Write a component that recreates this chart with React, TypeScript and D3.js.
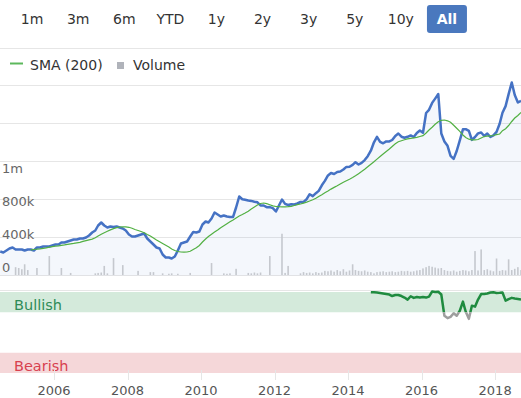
import * as d3 from "d3";
import { useEffect, useRef } from "react";

const W = 521;
const H = 398;

// monthly series, first point mid July 2004
const START = new Date(2004, 6, 15);

const rangeButtons = ["1m", "3m", "6m", "YTD", "1y", "2y", "3y", "5y", "10y", "All"];
const yearTicks = [2006, 2008, 2010, 2012, 2014, 2016, 2018];
const gridTicks = [0, 38, 76, 114, 152, 190];
const volumeTicks = [0, 400, 800, 1200];
const volumeLabels = ["0", "400k", "800k", "1m"];

// closing price, one value per month
const priceValues = [
  24, 23, 25, 27, 28, 26, 26, 26, 25, 26,
  26, 25, 28, 28, 29, 29, 29, 30, 31, 31,
  33, 33, 34, 35, 36, 36, 37, 37, 38, 40,
  43, 45, 50, 53, 50, 48, 49, 48.5, 49, 48,
  47, 45, 41, 39, 39, 40, 41, 42, 37, 34,
  31, 28, 27, 21, 18, 18, 17, 19, 25, 32,
  33, 34, 39, 43.5, 43, 44, 51, 54, 53, 57,
  63, 61, 59, 60, 59, 58.5, 58.6, 68, 79, 76.3,
  75.7, 75, 74.6, 73.8, 73.2, 70, 70, 68.3, 68.4, 67.4,
  64, 70.2, 76, 71.6, 70.5, 71.2, 71, 72, 73.5, 73.6,
  76.3, 81.3, 79.4, 82.3, 84.6, 90.2, 94.6, 100.1, 102.5, 101.5,
  103.5, 104, 106, 108.6, 108.7, 110.6, 113.3, 111, 112.6, 115.4,
  119.3, 124.8, 133.2, 138.6, 133.7, 132.2, 134.1, 134.1, 135.5, 139.6,
  142, 138.8, 137.8, 138.7, 140.1, 138.5, 142.6, 145, 142.7, 162.5,
  165.7, 172.6, 176.9, 181.5, 142, 134, 129.7, 119.6, 116.6, 124.5,
  135.2, 146.2, 146.3, 144.6, 135.6, 138.5, 142.1, 143, 139.5, 141.9,
  138.5, 140.1, 143.6, 151.8, 162.7, 169.4, 181.4, 193, 180.5, 173,
  174.7,
];

// SMA (200), starts at month 10
const smaOffset = 10;
const smaValues = [
  25.6, 26, 26.3, 26.7, 27.2, 27.7, 28.3, 28.8, 29.3, 29.7,
  30.2, 30.6, 31.1, 31.6, 32.1, 32.7, 33.2, 34.1, 34.9, 35.7,
  36.4, 37.7, 39.5, 41.3, 42.8, 44.2, 45.6, 46.9, 47.8, 48.5,
  48.7, 48.6, 48.2, 47.2, 46, 45, 44, 42.8, 41, 39.5,
  37.5, 35.5, 33.7, 32, 30.3, 28.5, 26.5, 25, 24, 23.5,
  23.3, 23.5, 24.2, 26, 27.7, 30, 33.5, 36.5, 39, 41.3,
  43.5, 45.5, 47.8, 49.8, 51.8, 53.7, 55.5, 57.5, 59.5, 61,
  62.5, 64.3, 66.5, 68.5, 70.5, 72, 72.5, 71.8, 70.7, 69.7,
  69, 68.8, 68.7, 68.7, 68.8, 69.2, 70, 70.8, 71.5, 72.4,
  73.4, 74.5, 75.7, 77.2, 79, 80.8, 82.7, 84.5, 86.4, 88.1,
  89.7, 91.5, 93.3, 94.8, 96.3, 97.9, 99.7, 101.8, 103.9, 106.2,
  108.7, 111.3, 113.8, 116.4, 119, 121.5, 124, 126.5, 129, 131.7,
  133.7, 134.8, 135.8, 136.7, 137.2, 137.7, 138.2, 139, 139.8, 142.5,
  145.5, 148.3, 151.2, 153.8, 155.2, 155.5, 154.7, 153.2, 150.3, 147.3,
  144.2, 140.5, 138, 136.3, 135.7, 135.7, 136, 137.5, 139, 139.4,
  139.7, 140, 140.8, 141.5, 144.8, 146.8, 150, 154, 157.5, 160,
  163,
];

// volume in thousands, one bar per month
const volumeValues = [
  0, 0, 0, 0, 0, 95, 85, 70, 130, 60,
  0, 0, 85, 0, 0, 0, 230, 0, 0, 0,
  85, 0, 0, 25, 0, 0, 0, 0, 0, 0,
  0, 20, 25, 30, 110, 20, 0, 205, 0, 0,
  120, 0, 0, 0, 0, 50, 0, 0, 0, 35,
  35, 0, 0, 20, 0, 15, 20, 0, 15, 0,
  0, 0, 25, 0, 0, 0, 0, 0, 0, 145,
  0, 0, 0, 20, 15, 20, 0, 75, 0, 0,
  0, 25, 20, 30, 20, 30, 0, 0, 230, 0,
  0, 0, 500, 25, 110, 0, 0, 0, 20, 35,
  25, 30, 20, 35, 25, 30, 50, 45, 55, 40,
  60, 45, 70, 40, 55, 130, 60, 50, 45, 55,
  40, 35, 20, 35, 40, 45, 35, 40, 45, 35,
  40, 50, 45, 50, 40, 45, 55, 60, 80, 95,
  110, 100, 90, 80, 85, 60, 50, 45, 55, 40,
  50, 60, 55, 45, 60, 290, 55, 310, 60, 70,
  55, 45, 200, 50, 60, 55, 190, 60, 75, 95,
  60,
];

// sentiment score, starts at month 121 (Aug 2014)
const sentimentOffset = 121;
const sentimentValues = [
  39.8, 39.7, 39.5, 39, 38.5, 38, 37.5, 36, 37, 37,
  36, 34.5, 32.5, 35.8, 34.2, 35, 34.5, 35, 34.5, 35.5,
  40.5, 40, 40.2, 37.5, 16.5, 14.2, 15.5, 19, 16.5, 21.5,
  30.5, 20.5, 13.5, 26.5, 25.5, 32.5, 38, 38, 38.5, 39.5,
  39.8, 39, 39.2, 39.5, 31.5, 33, 34.2, 33.5, 33, 32.5,
];

const App = () => {
  const chartRef = useRef<SVGSVGElement>(null);

  useEffect(() => {
    const svg = d3.select(chartRef.current);
    svg.selectAll("*").remove();
    const font = "'DejaVu Sans', sans-serif";

    const x = d3.scaleTime()
      .domain([new Date(2004, 6, 13), new Date(2018, 8, 15)])
      .range([0, W]);
    const yPrice = d3.scaleLinear().domain([0, 190]).range([275.5, 85.5]);
    const yVol = d3.scaleLinear().domain([0, 1200]).range([275, 176]);
    const ySent = d3.scaleLinear().domain([-40, 40]).range([373, 292]);

    const month = (i: number) => d3.timeMonth.offset(START, i);
    const price = priceValues.map((v, i) => ({ date: month(i), v }));
    const sma = smaValues.map((v, i) => ({ date: month(i + smaOffset), v }));
    const volume = volumeValues.map((v, i) => ({ date: month(i), v }));
    const sentiment = sentimentValues.map((v, i) => ({ date: month(i + sentimentOffset), v }));

    // range selector buttons
    const btn = d3.scaleBand().domain(rangeButtons).range([9, 470]);
    const buttons = svg.append("g");
    buttons.selectAll("rect")
      .data(rangeButtons.filter(b => b === "All"))
      .enter()
      .append("rect")
      .attr("x", d => btn(d)! + btn.bandwidth() / 2 - 20)
      .attr("y", 5)
      .attr("width", 40)
      .attr("height", 28)
      .attr("rx", 3)
      .style("fill", "#4a78be");
    buttons.selectAll("text")
      .data(rangeButtons)
      .enter()
      .append("text")
      .attr("x", d => btn(d)! + btn.bandwidth() / 2)
      .attr("y", 24)
      .attr("text-anchor", "middle")
      .style("font-family", font)
      .style("font-size", "14px")
      .style("font-weight", d => d === "All" ? "bold" : "normal")
      .style("fill", d => d === "All" ? "#fff" : "#333")
      .text(d => d);

    svg.append("line")
      .attr("x1", 0).attr("x2", W).attr("y1", 48.5).attr("y2", 48.5)
      .style("stroke", "#e6e6e6");

    // legend
    svg.append("line")
      .attr("x1", 10).attr("x2", 23).attr("y1", 63.5).attr("y2", 63.5)
      .style("stroke", "#5cb85c").style("stroke-width", 2);
    svg.append("text")
      .attr("x", 30).attr("y", 69.5)
      .style("font-family", font).style("font-size", "14px").style("fill", "#333")
      .text("SMA (200)");
    svg.append("rect")
      .attr("x", 117).attr("y", 62).attr("width", 7).attr("height", 7)
      .style("fill", "#b0b3ba");
    svg.append("text")
      .attr("x", 133).attr("y", 69.5)
      .style("font-family", font).style("font-size", "14px").style("fill", "#333")
      .text("Volume");

    // price panel grid
    svg.append("g")
      .selectAll("line")
      .data(gridTicks)
      .enter()
      .append("line")
      .attr("x1", 0).attr("x2", W)
      .attr("y1", d => yPrice(d)).attr("y2", d => yPrice(d))
      .style("stroke", "#e6e6e6");

    const area = d3.area<{ date: Date; v: number }>()
      .x(d => x(d.date))
      .y0(yPrice(0))
      .y1(d => yPrice(d.v));
    svg.append("path")
      .datum(price)
      .attr("d", area)
      .style("fill", "#4572c4")
      .style("opacity", 0.06);

    svg.append("g")
      .selectAll("rect")
      .data(volume.filter(d => d.v > 0))
      .enter()
      .append("rect")
      .attr("x", d => x(d.date) - 0.8)
      .attr("y", d => yVol(d.v))
      .attr("width", 1.6)
      .attr("height", d => yVol(0) - yVol(d.v))
      .style("fill", "#c5c8ce");

    svg.append("g")
      .selectAll("text")
      .data(volumeTicks)
      .enter()
      .append("text")
      .attr("x", 2)
      .attr("y", d => yVol(d) - 3)
      .style("font-family", font)
      .style("font-size", "13px")
      .style("fill", "#666")
      .text((d, i) => volumeLabels[i]);

    const line = d3.line<{ date: Date; v: number }>()
      .x(d => x(d.date))
      .y(d => yPrice(d.v));
    svg.append("path")
      .datum(price)
      .attr("d", line)
      .style("fill", "none")
      .style("stroke", "#4572c4")
      .style("stroke-width", 2.5)
      .style("stroke-linejoin", "round");
    svg.append("path")
      .datum(sma)
      .attr("d", line)
      .style("fill", "none")
      .style("stroke", "#52b043")
      .style("stroke-width", 1.2);

    // sentiment panel
    svg.append("line")
      .attr("x1", 0).attr("x2", W).attr("y1", 290.5).attr("y2", 290.5)
      .style("stroke", "#e6e6e6");
    svg.append("rect")
      .attr("x", 0).attr("width", W)
      .attr("y", ySent(40)).attr("height", ySent(20) - ySent(40))
      .style("fill", "#d4eadb");
    svg.append("rect")
      .attr("x", 0).attr("width", W)
      .attr("y", ySent(-20)).attr("height", ySent(-40) - ySent(-20))
      .style("fill", "#f5d7d9");
    svg.append("text")
      .attr("x", 14).attr("y", 310)
      .style("font-family", font).style("font-size", "14.5px").style("fill", "#2e8b57")
      .text("Bullish");
    svg.append("text")
      .attr("x", 14).attr("y", 371)
      .style("font-family", font).style("font-size", "14.5px").style("fill", "#d8404f")
      .text("Bearish");

    const defs = svg.append("defs");
    defs.append("clipPath").attr("id", "bull-clip")
      .append("rect").attr("x", 0).attr("y", 0).attr("width", W).attr("height", ySent(20));
    defs.append("clipPath").attr("id", "bear-clip")
      .append("rect").attr("x", 0).attr("y", ySent(20)).attr("width", W).attr("height", H);

    const sentLine = d3.line<{ date: Date; v: number }>()
      .x(d => x(d.date))
      .y(d => ySent(d.v));
    svg.append("path")
      .datum(sentiment)
      .attr("d", sentLine)
      .attr("clip-path", "url(#bull-clip)")
      .style("fill", "none")
      .style("stroke", "#1f8b3f")
      .style("stroke-width", 2.5)
      .style("stroke-linejoin", "round");
    svg.append("path")
      .datum(sentiment)
      .attr("d", sentLine)
      .attr("clip-path", "url(#bear-clip)")
      .style("fill", "none")
      .style("stroke", "#9e9e9e")
      .style("stroke-width", 2.5)
      .style("stroke-linejoin", "round");

    // x axis
    const xAxis = svg.append("g");
    xAxis.selectAll("line")
      .data(yearTicks)
      .enter()
      .append("line")
      .attr("x1", d => Math.round(x(new Date(d, 0, 1))) + 0.5)
      .attr("x2", d => Math.round(x(new Date(d, 0, 1))) + 0.5)
      .attr("y1", 370).attr("y2", 380)
      .style("stroke", "#e6e6e6");
    xAxis.selectAll("text")
      .data(yearTicks)
      .enter()
      .append("text")
      .attr("x", d => x(new Date(d, 0, 1)))
      .attr("y", 395)
      .attr("text-anchor", "middle")
      .style("font-family", font)
      .style("font-size", "13px")
      .style("fill", "#555")
      .text(d => d);
  }, []);

  return (
    <svg ref={chartRef} width={W} height={H} style={{ position: "absolute", left: 0, top: 0, background: "#fff" }}></svg>
  );
};

export default App;
